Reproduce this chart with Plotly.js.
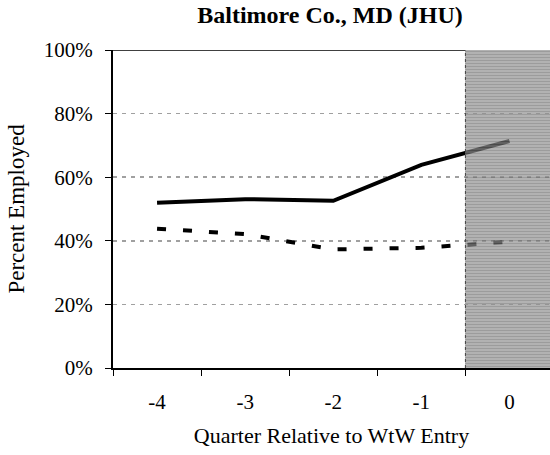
<!DOCTYPE html>
<html>
<head>
<meta charset="utf-8">
<script src="https://cdn.plot.ly/plotly-3.0.1.min.js"></script>
<style>html,body{margin:0;padding:0;background:#fff;}#chart{width:550px;height:455px;}</style>
</head>
<body>
<div id="chart"></div>
<script>
const quarters = ['-4', '-3', '-2', '-1', '0'];
const employedSolid = [0.520, 0.531, 0.526, 0.639, 0.714];
const employedDashed = [0.438, 0.421, 0.373, 0.378, 0.397];
const shadedQuarter = ['0'];
const shadedHeight = [1];
const yTickVals = [0, 0.2, 0.4, 0.6, 0.8, 1.0];

const serif = '"Liberation Serif", "Times New Roman", Times, serif';

const traces = [
  {
    x: quarters, y: employedSolid, type: 'scatter', mode: 'lines',
    line: {color: '#000', width: 4}, showlegend: false, hoverinfo: 'skip'
  },
  {
    x: quarters, y: employedDashed, type: 'scatter', mode: 'lines',
    line: {color: '#000', width: 4, dash: '9px,17px'}, showlegend: false, hoverinfo: 'skip'
  },
  {
    x: shadedQuarter, y: shadedHeight, type: 'bar', xaxis: 'x', yaxis: 'y2',
    width: 1, showlegend: false, hoverinfo: 'skip',
    marker: {
      color: '#8c8c8c', opacity: 0.68, line: {width: 0},
      pattern: {shape: '-', fgcolor: '#6e6e6e', bgcolor: '#929292', size: 3, solidity: 0.4, fillmode: 'replace'}
    }
  }
];

const layout = {
  width: 550, height: 455,
  margin: {l: 113, r: 0, t: 50, b: 87},
  paper_bgcolor: '#fff', plot_bgcolor: '#fff',
  font: {family: serif, color: '#000', size: 21},
  title: {
    text: '<b>Baltimore Co., MD (JHU)</b>',
    font: {family: serif, size: 24, color: '#000'},
    x: 0.6, xanchor: 'center', y: 0.968, yanchor: 'middle'
  },
  xaxis: {
    type: 'category', categoryorder: 'array', categoryarray: quarters,
    range: [-0.5, 4.46],
    showline: true, linecolor: '#000', linewidth: 2,
    ticks: 'outside', tickson: 'boundaries', ticklen: 6, tickcolor: '#000', tickwidth: 1,
    ticklabelstandoff: 14,
    showgrid: false, zeroline: false,
    tickfont: {family: serif, size: 21},
    title: {text: 'Quarter Relative to WtW Entry', font: {family: serif, size: 22}, standoff: 14}
  },
  yaxis: {
    range: [0, 1], tickvals: yTickVals, tickformat: '.0%',
    showline: true, linecolor: '#000', linewidth: 2,
    ticks: 'outside', ticklen: 6, tickcolor: '#000', tickwidth: 1,
    ticklabelstandoff: 8,
    showgrid: true, gridcolor: '#a0a0a0', gridwidth: 1.5, griddash: '4px,5px',
    zeroline: false,
    tickfont: {family: serif, size: 21},
    title: {text: 'Percent Employed', font: {family: serif, size: 23}, standoff: 13}
  },
  yaxis2: {overlaying: 'y', range: [0, 1], visible: false, fixedrange: true},
  bargap: 0,
  shapes: [
    {type: 'line', xref: 'x', yref: 'y', x0: -0.5, x1: 3.5, y0: 1, y1: 1, line: {color: '#000', width: 1.5}},
    {type: 'line', xref: 'x', yref: 'y', x0: 3.5, x1: 3.5, y0: 0, y1: 1, layer: 'above', line: {color: '#444', width: 1, dash: 'dot'}}
  ]
};

Plotly.newPlot('chart', traces, layout, {staticPlot: true, displayModeBar: false});
</script>
</body>
</html>
